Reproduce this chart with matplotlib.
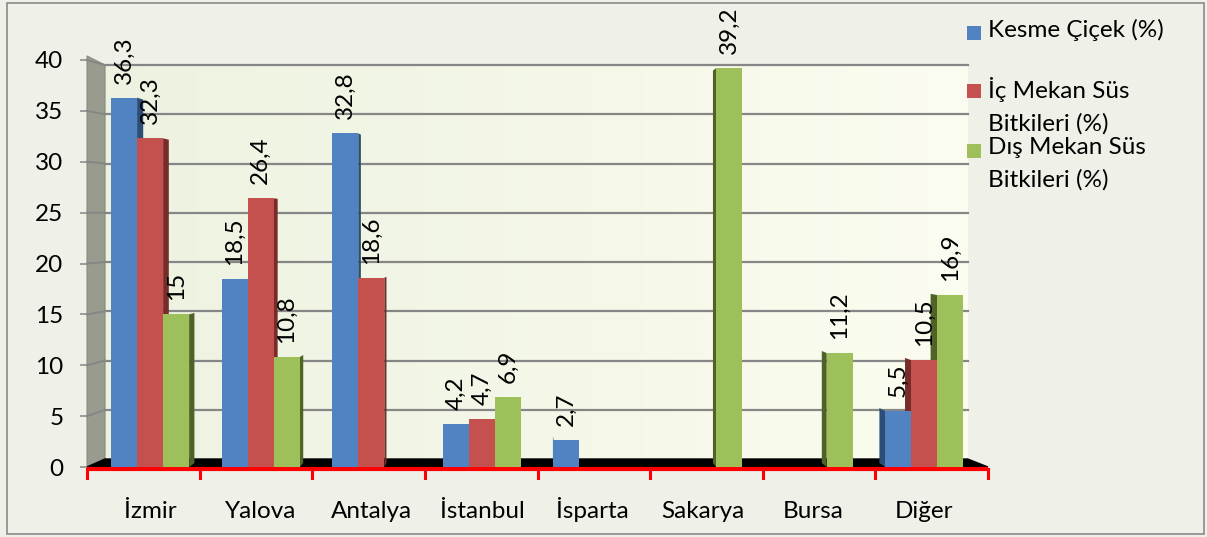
import numpy as np
import matplotlib
matplotlib.use("Agg")
import matplotlib.pyplot as plt
from matplotlib.patches import Polygon, Rectangle

plt.rcParams["font.family"] = ["Lato", "DejaVu Sans"]

# --- data ---
categories = ["İzmir", "Yalova", "Antalya", "İstanbul", "İsparta", "Sakarya", "Bursa", "Diğer"]
series_names = ["Kesme Çiçek (%)", "İç Mekan Süs\nBitkileri (%)", "Dış Mekan Süs\nBitkileri (%)"]
kesme_cicek = [36.3, 18.5, 32.8, 4.2, 2.7, None, None, 5.5]
ic_mekan = [32.3, 26.4, 18.6, 4.7, None, None, None, 10.5]
dis_mekan = [15, 10.8, None, 6.9, None, 39.2, 11.2, 16.9]
yticks = [0, 5, 10, 15, 20, 25, 30, 35, 40]

front_colors = ["#5182c2", "#c5514e", "#9dc05a"]
side_colors = ["#2c4d75", "#772c2a", "#4f6228"]
FS = 17.5

# --- figure / axes (pixel layout of the original) ---
W, H = 1207, 537
fig = plt.figure(figsize=(W / 100, H / 100), dpi=100, facecolor="#eff1e8")
ax = fig.add_axes([87 / W, 1 - 467 / H, (988 - 87) / W, (467 - 60) / H])
ax.set_facecolor("none")
for s in ax.spines.values():
    s.set_visible(False)

n = len(categories)
# "3D" geometry: back wall sits a little inside the front frame
vx, vy, k = 3.845, 24.0, 0.016      # vanishing point and depth of bar sides
wall_x0, wall_x1 = 0.16, 7.82
back = lambda v: 0.786 + 0.968 * v   # value -> y on the back wall

# back wall with a faint gradient
grad = np.linspace(0, 1, 256)[None, :, None]
c0 = np.array([0.93, 0.95, 0.88])
c1 = np.array([0.985, 0.99, 0.94])
ax.imshow(c0 + (c1 - c0) * grad, extent=[wall_x0, wall_x1, back(0), back(40)],
          aspect="auto", zorder=0)

# left side wall
ax.add_patch(Polygon([(0, 0), (0, 40.4), (wall_x0, back(40)), (wall_x0, back(0))],
                     closed=True, facecolor="#999b8f", edgecolor="#8a8c80", lw=0.8,
                     zorder=0.5, clip_on=False))

# gridlines: on the back wall plus the slanted part on the side wall
for v in yticks[1:]:
    ax.plot([wall_x0, wall_x1], [back(v), back(v)], color="#868686", lw=1.6, zorder=1)
for v in yticks:
    ax.plot([0, wall_x0], [v, back(v)], color="#868686", lw=1.4, zorder=1, clip_on=False)

# floor
ax.add_patch(Polygon([(0, 0), (n, 0), (wall_x1, back(0)), (wall_x0, back(0))],
                     closed=True, facecolor="black", edgecolor="black", zorder=1.5,
                     clip_on=False))

# red category axis with ticks
ax.plot([0, n], [-0.2, -0.2], color="red", lw=3, zorder=2, clip_on=False,
        solid_capstyle="butt")
for b in range(n + 1):
    ax.plot([b, b], [-0.2, -1.08], color="red", lw=2.2, zorder=2, clip_on=False)

# bars
bw = 0.231
centers = [vx + (i + 0.5 - vx) * 0.982 for i in range(n)]
all_series = [kesme_cicek, ic_mekan, dis_mekan]
for j, vals in enumerate(all_series):
    for i, v in enumerate(vals):
        if v is None:
            continue
        x = centers[i] + (j - 1) * bw
        left, right = x - bw / 2, x + bw / 2
        z = 10 - abs(x - vx)
        ex = right if x < vx else left
        ex_b = ex + (vx - ex) * k
        side = Polygon([(ex, 0), (ex, v), (ex_b, v + (vy - v) * k), (ex_b, vy * k)],
                       closed=True, facecolor=side_colors[j], edgecolor="none",
                       zorder=z - 0.01)
        ax.add_patch(side)
        bar = ax.bar(x, v, width=bw, color=front_colors[j], edgecolor="none")
        bar.patches[0].set_zorder(z)
        ax.annotate(f"{v:g}".replace(".", ","), (x, v), xytext=(0, 10),
                    textcoords="offset points", rotation=90, ha="center", va="bottom",
                    fontsize=FS, color="black", zorder=20)

ax.set_xlim(0, n)
ax.set_ylim(0, 40)
ax.set_yticks(yticks)
ax.set_yticklabels([str(t) for t in yticks])
ax.tick_params(axis="y", length=5, width=1.1, color="#868686", pad=12, labelsize=FS)
ax.set_xticks(centers)
ax.set_xticklabels(categories)
ax.tick_params(axis="x", length=0, pad=37, labelsize=FS)
for lab in ax.get_xticklabels():
    lab.set_va("baseline")

# legend drawn by hand (marker aligned with the first line)
leg_y = [33, 91, 151]
for j, name in enumerate(series_names):
    fig.add_artist(Rectangle((967 / W, 1 - (leg_y[j] + 7) / H), 14 / W, 14 / H,
                             transform=fig.transFigure, facecolor=front_colors[j],
                             edgecolor="none"))
    fig.text(988 / W, 1 - (leg_y[j] - 14) / H, name, ha="left", va="top",
             fontsize=FS, linespacing=1.65)

# outer border
fig.add_artist(Rectangle((7 / W, 1 - 534 / H), 1197 / W, 531 / H, transform=fig.transFigure,
                         fill=False, edgecolor="#8a8a8a", lw=1.2))

fig.savefig("out.png", dpi=100, facecolor=fig.get_facecolor())
